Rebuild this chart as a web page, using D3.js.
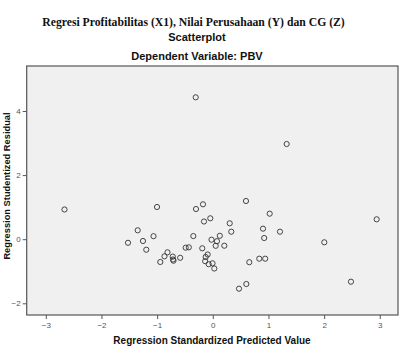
<!DOCTYPE html>
<html><head><meta charset="utf-8">
<script src="https://cdn.jsdelivr.net/npm/d3@7"></script>
<style>body{margin:0;background:#fff}svg{display:block}</style>
</head><body>
<svg id="c" width="399" height="347"></svg>
<script>
const title = "Regresi Profitabilitas (X1), Nilai Perusahaan (Y) dan CG (Z)";
const subtitle1 = "Scatterplot";
const subtitle2 = "Dependent Variable: PBV";
const xLabel = "Regression Standardized Predicted Value";
const yLabel = "Regression Studentized Residual";
const xTicks = [-3, -2, -1, 0, 1, 2, 3];
const yTicks = [-2, 0, 2, 4];
const predicted = [-2.664,-1.002,-0.302,-0.307,-1.349,-1.065,-0.350,-1.523,-1.254,-1.195,
  -0.814,-0.868,-0.943,-0.719,-0.715,-0.706,-0.586,-0.487,-0.431,-0.176,
  -0.158,-0.045,-0.189,-0.023,0.075,0.126,0.052,0.207,-0.092,-0.128,
  -0.137,-0.074,-0.005,0.027,0.596,0.304,0.332,1.022,0.902,1.207,
  0.923,0.656,0.835,0.941,0.602,0.471,1.327,2.944,2.003,2.482];
const residual = [0.927,1.005,0.942,4.427,0.278,0.094,0.097,-0.112,-0.056,-0.328,
  -0.409,-0.534,-0.711,-0.543,-0.633,-0.671,-0.580,-0.265,-0.253,1.089,
  0.552,0.652,-0.284,-0.016,-0.062,0.106,-0.206,-0.203,-0.477,-0.555,
  -0.686,-0.780,-0.752,-0.914,1.192,0.496,0.234,0.796,0.328,0.234,
  0.037,-0.718,-0.608,-0.608,-1.398,-1.544,2.970,0.621,-0.097,-1.326];

const svg = d3.select("#c");
const L = 26.7, R = 398, T = 66, B = 315;
const x = d3.scaleLinear().domain([-3.343, 3.327]).range([L, R]);
const y = d3.scaleLinear().domain([-2.365, 5.404]).range([B, T]);

svg.append("text").attr("x", 193.5).attr("y", 26).attr("text-anchor", "middle")
  .attr("font-family", "Liberation Serif, Times New Roman, serif").attr("font-weight", "bold")
  .attr("font-size", 11.7).attr("fill", "#111").text(title);
svg.append("text").attr("x", 197).attr("y", 41).attr("text-anchor", "middle")
  .attr("font-family", "Liberation Sans, Arial, sans-serif").attr("font-weight", "bold")
  .attr("font-size", 11).attr("fill", "#111").text(subtitle1);
svg.append("text").attr("x", 197).attr("y", 60).attr("text-anchor", "middle")
  .attr("font-family", "Liberation Sans, Arial, sans-serif").attr("font-weight", "bold")
  .attr("font-size", 11).attr("fill", "#111").text(subtitle2);

svg.append("rect").attr("x", L).attr("y", T).attr("width", R - L).attr("height", B - T)
  .attr("fill", "#f0f0f0").attr("stroke", "#555").attr("stroke-width", 1.2);

const xAxis = svg.append("g").attr("transform", `translate(0,${B})`)
  .call(d3.axisBottom(x).tickValues(xTicks).tickSize(4).tickPadding(3).tickFormat(d3.format("d")));
const yAxis = svg.append("g").attr("transform", `translate(${L},0)`)
  .call(d3.axisLeft(y).tickValues(yTicks).tickSize(4).tickPadding(2).tickFormat(d3.format("d")));
[xAxis, yAxis].forEach(a => {
  a.select(".domain").remove();
  a.selectAll("line").attr("stroke", "#555");
  a.selectAll("text").attr("font-family", "Liberation Sans, Arial, sans-serif")
    .attr("font-size", 8).attr("fill", "#555");
});

svg.append("g").selectAll("circle").data(predicted.map((p, i) => [p, residual[i]]))
  .join("circle").attr("cx", d => x(d[0])).attr("cy", d => y(d[1])).attr("r", 2.6)
  .attr("fill", "none").attr("stroke", "#333").attr("stroke-width", 0.9);

svg.append("text").attr("x", 212).attr("y", 344).attr("text-anchor", "middle")
  .attr("font-family", "Liberation Sans, Arial, sans-serif").attr("font-weight", "bold")
  .attr("font-size", 10).attr("fill", "#111").text(xLabel);
svg.append("text").attr("transform", "translate(10,186) rotate(-90)").attr("text-anchor", "middle")
  .attr("font-family", "Liberation Sans, Arial, sans-serif").attr("font-weight", "bold")
  .attr("font-size", 9.3).attr("fill", "#111").text(yLabel);
</script>
</body></html>
